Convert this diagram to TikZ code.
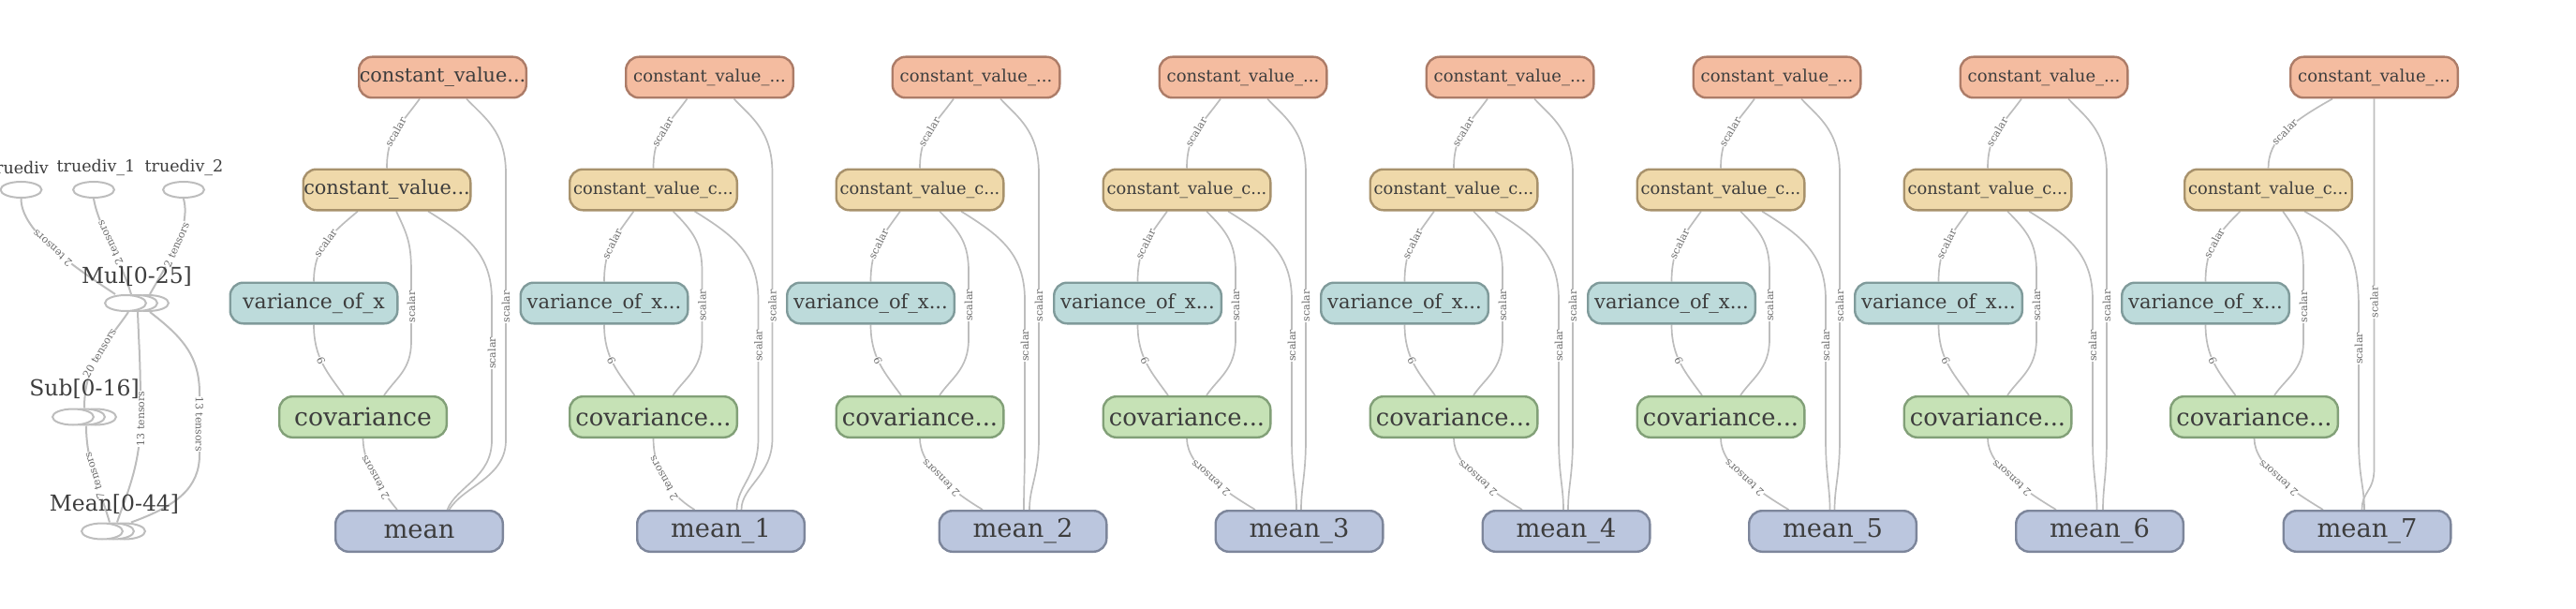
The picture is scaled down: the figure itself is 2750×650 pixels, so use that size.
\documentclass[tikz,border=0pt]{standalone}
\usepackage{fontspec}
\setmainfont{DejaVu Serif}
\usetikzlibrary{shapes.geometric,backgrounds}
\definecolor{txt}{HTML}{3D3D3D}
\definecolor{edg}{HTML}{BDBDBD}
\definecolor{lblc}{HTML}{6A6A6A}
\definecolor{orF}{HTML}{F4BCA0}\definecolor{orD}{HTML}{AC7C68}
\definecolor{tnF}{HTML}{EFD9AA}\definecolor{tnD}{HTML}{A8926C}
\definecolor{vaF}{HTML}{BDDBDB}\definecolor{vaD}{HTML}{809B9B}
\definecolor{cvF}{HTML}{C6E2B6}\definecolor{cvD}{HTML}{82A078}
\definecolor{mnF}{HTML}{BBC6DE}\definecolor{mnD}{HTML}{7D869B}
\newcommand\fsz[1]{\fontsize{#1}{#1}\selectfont}
\tikzset{
  box/.style={rectangle, rounded corners=14pt, minimum width=178.6pt, minimum height=43.6pt, inner sep=0pt, line width=2.4pt, text=txt},
  orbox/.style={box, fill=orF, draw=orD},
  tnbox/.style={box, fill=tnF, draw=tnD},
  vabox/.style={box, fill=vaF, draw=vaD},
  cvbox/.style={box, fill=cvF, draw=cvD},
  mnbox/.style={box, fill=mnF, draw=mnD, font=\fsz{27.3}},
  edge/.style={draw=edg, line width=1.7pt},
  ledge/.style={draw=edg, line width=2pt},
  lab/.style={font=\fsz{11}, text=lblc, fill=white, inner sep=0.3pt},
  slab/.style={lab, sloped},
  flab/.style={lab, sloped, rotate=180},
  vlab/.style={lab, rotate=90},
  dlab/.style={lab, rotate=-90},
  opn/.style={ellipse, draw=edg, line width=2pt, fill=white, minimum width=44pt, minimum height=17pt, inner sep=0pt},
  optxt/.style={text=txt, inner sep=0pt},
}
\begin{document}
\begin{tikzpicture}[x=1pt, y=-1pt]
\useasboundingbox (0,0) rectangle (2750,650);
% ---------- left summary graph ----------
\node[optxt, font=\fsz{17.5}] (tdL) at (20,179) {truediv};
\node[opn] (td) at (22.5,202.5) {};
\node[optxt, font=\fsz{17.5}] (td1L) at (102.5,179) {truediv\_1};
\node[opn] (td1) at (100,202.5) {};
\node[optxt, font=\fsz{17.5}] (td2L) at (196.5,179) {truediv\_2};
\node[opn] (td2) at (196,202.5) {};
\node[optxt, font=\fsz{23.5}] (mulL) at (146,295) {Mul[0-25]};
\node[opn] (mul3) at (158,323.5) {};
\node[opn] (mul2) at (146,323.5) {};
\node[opn] (mul) at (134,323.5) {};
\node[optxt, font=\fsz{23.5}] (subL) at (90,415) {Sub[0-16]};
\node[opn] (sub3) at (102,445) {};
\node[opn] (sub2) at (90,445) {};
\node[opn] (sub) at (78,445) {};
\node[optxt, font=\fsz{23.5}] (meanL) at (122,538) {Mean[0-44]};
\node[opn] (mn3) at (133,567) {};
\node[opn] (mn2) at (121,567) {};
\node[opn] (mn) at (109,567) {};
\begin{scope}[on background layer]
\draw[ledge] (td.south) .. controls +(0,35) and +(-45,-30) .. node[flab]{2 tensors} ([xshift=-11pt]mul.north);
\draw[ledge] (td1.south) .. controls +(5,30) and +(-12,-40) .. node[flab]{2 tensors} ([xshift=6pt]mul.north);
\draw[ledge] (td2.south) .. controls +(8,30) and +(20,-35) .. node[slab]{2 tensors} ([xshift=14pt]mul2.north);
\draw[ledge] ([xshift=3pt]mul.south) .. controls +(-20,30) and +(0,-50) .. node[slab]{20 tensors} ([xshift=12pt]sub.north);
\draw[ledge] ([xshift=13pt]mul.south) .. controls +(2,50) and +(0,-60) .. (150,447) node[vlab]{13 tensors} .. controls +(0,50) and +(10,-30) .. ([xshift=16pt]mn.north);
\draw[ledge] ([xshift=26pt]mul.south) .. controls +(35,27) and +(0,-40) .. (213,420) -- node[dlab]{13 tensors} (213,485) .. controls +(0,35) and +(50,-18) .. ([xshift=31pt]mn.north);
\draw[ledge] ([xshift=14pt]sub.south) .. controls +(0,40) and +(-10,-35) .. node[flab]{7 tensors} ([xshift=8pt]mn.north);
\end{scope}
% ---------- column 0 ----------
\node[orbox] (o0) at (472.5,82.5) {\fsz{20.8}constant\_value...};
\node[tnbox] (t0) at (413,202.5) {\fsz{20.8}constant\_value...};
\node[vabox] (v0) at (335,323.5) {\fsz{22}variance\_of\_x};
\node[cvbox] (c0) at (387.5,445) {\fsz{26.6}covariance};
\node[mnbox] (m0) at (447.5,567) {mean};
\begin{scope}[on background layer]
\draw[edge] ([xshift=-24.5pt]o0.south) .. controls +(-22,30) and +(0,-35) .. node[slab]{scalar} (t0.north);
\draw[edge] ([xshift=25.5pt]o0.south) .. controls +(19,20) and +(0,-45) .. (540,185) -- node[vlab]{scalar} (540,470) .. controls +(0,40) and +(15,-25) .. ([xshift=32pt]m0.north);
\draw[edge] ([xshift=-31pt]t0.south) .. controls +(-30,25) and +(0,-35) .. node[slab]{scalar} (v0.north);
\draw[edge] ([xshift=10pt]t0.south) .. controls +(12,25) and +(0,-30) .. (439,290) -- node[vlab]{scalar} (439,365) .. controls +(0,30) and +(12,-18) .. ([xshift=22.5pt]c0.north);
\draw[edge] ([xshift=44pt]t0.south) .. controls +(40,25) and +(0,-50) .. (525,320) -- node[vlab,pos=0.38]{scalar} (525,470) .. controls +(0,40) and +(10,-25) .. ([xshift=30pt]m0.north);
\draw[edge] (v0.south) .. controls +(0,35) and +(-18,-25) .. node[slab,pos=0.45]{6} ([xshift=-20.5pt]c0.north);
\draw[edge] (c0.south) .. controls +(0,28) and +(-15,-18) .. node[flab]{2 tensors} ([xshift=-23.5pt]m0.north);
\end{scope}
% ---------- columns 1-6 ----------
\foreach \i/\T/\M/\cm/\om/\tm in {1/697.5/769.5/-28/22/17, 2/982/1092/-43/7/1, 3/1267/1387/-47/2/-3, 4/1552/1672/-47/2/-3, 5/1837/1956.5/-47/2/-3, 6/2122/2241.5/-46.5/3.5/-3}{
  \node[orbox] (o\i) at ({\T+60},82.5) {\fsz{18}constant\_value\_...};
  \node[tnbox] (t\i) at (\T,202.5) {\fsz{17.8}constant\_value\_c...};
  \node[vabox] (v\i) at ({\T-52.5},323.5) {\fsz{21}variance\_of\_x...};
  \node[cvbox] (c\i) at (\T,445) {\fsz{25.7}covariance...};
  \node[mnbox] (m\i) at (\M,567) {mean\_\i};
  \begin{scope}[on background layer]
  \draw[edge] ([xshift=-24pt]o\i.south) .. controls +(-22,30) and +(0,-35) .. node[slab]{scalar} (t\i.north);
  \draw[edge] ([xshift=26pt]o\i.south) .. controls +(19,20) and +(0,-45) .. ({\T+127},185) -- node[vlab]{scalar} ({\T+127},468) .. controls +(0,40) and +(0,-25) .. ([xshift=\om pt]m\i.north);
  \draw[edge] ([xshift=-21pt]t\i.south) .. controls +(-20,28) and +(0,-35) .. node[slab]{scalar} (v\i.north);
  \draw[edge] ([xshift=21pt]t\i.south) .. controls +(22,22) and +(0,-30) .. ({\T+52},290) -- node[vlab]{scalar} ({\T+52},362) .. controls +(0,32) and +(12,-18) .. ([xshift=21pt]c\i.north);
  \draw[edge] ([xshift=44pt]t\i.south) .. controls +(40,25) and +(0,-50) .. ({\T+112},320) -- node[vlab,pos=0.33]{scalar} ({\T+112},468) .. controls +(0,40) and +(0,-25) .. ([xshift=\tm pt]m\i.north);
  \draw[edge] (v\i.south) .. controls +(0,35) and +(-18,-25) .. node[slab,pos=0.45]{6} ([xshift=-20pt]c\i.north);
  \draw[edge] (c\i.south) .. controls +(0,30) and +(-30,-18) .. node[flab]{2 tensors} ([xshift=\cm pt]m\i.north);
  \end{scope}
}
% ---------- column 7 ----------
\node[orbox] (o7) at (2534.5,82.5) {\fsz{18}constant\_value\_...};
\node[tnbox] (t7) at (2421.5,202.5) {\fsz{17.8}constant\_value\_c...};
\node[vabox] (v7) at (2354.5,323.5) {\fsz{21}variance\_of\_x...};
\node[cvbox] (c7) at (2406.5,445) {\fsz{25.7}covariance...};
\node[mnbox] (m7) at (2527,567) {mean\_7};
\begin{scope}[on background layer]
\draw[edge] ([xshift=-44.5pt]o7.south) .. controls +(-45,25) and +(0,-30) .. node[slab]{scalar} (t7.north);
\draw[edge] (o7.south) -- node[vlab,pos=0.55]{scalar} (2534.5,500) .. controls +(0,25) and +(0,-20) .. ([xshift=-5.5pt]m7.north);
\draw[edge] ([xshift=-30pt]t7.south) .. controls +(-25,25) and +(0,-35) .. node[slab]{scalar} (v7.north);
\draw[edge] ([xshift=15.5pt]t7.south) .. controls +(18,25) and +(0,-30) .. (2459,290) -- node[vlab]{scalar} (2459,365) .. controls +(0,30) and +(12,-18) .. ([xshift=21.5pt]c7.north);
\draw[edge] ([xshift=38.5pt]t7.south) .. controls +(45,25) and +(0,-60) .. (2518,330) -- node[vlab,pos=0.3]{scalar} (2518,470) .. controls +(0,40) and +(0,-25) .. ([xshift=-3pt]m7.north);
\draw[edge] (v7.south) .. controls +(0,35) and +(-18,-25) .. node[slab,pos=0.45]{6} ([xshift=-20pt]c7.north);
\draw[edge] (c7.south) .. controls +(0,30) and +(-30,-18) .. node[flab]{2 tensors} ([xshift=-47pt]m7.north);
\end{scope}
\end{tikzpicture}
\end{document}
